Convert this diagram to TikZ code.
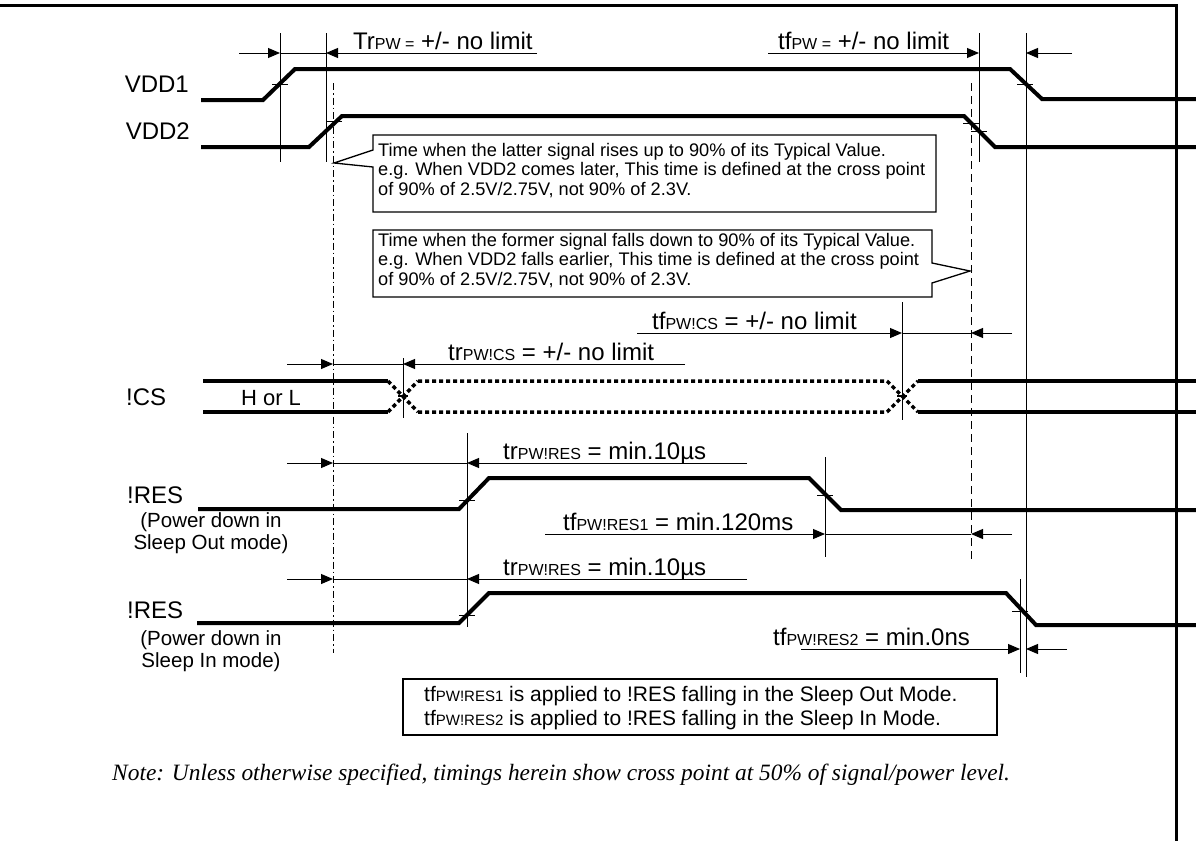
\documentclass[tikz,border=0pt]{standalone}
\usepackage{fontspec}
\setmainfont{Liberation Sans}
\newfontfamily\notefont{Liberation Serif}
\usetikzlibrary{arrows.meta}

\newcommand{\bigtxt}{\fontsize{24}{28}\selectfont}
\newcommand{\subtxt}{\fontsize{16}{19}\selectfont}
\newcommand{\calltxt}{\fontsize{18.2}{19.5}\selectfont}
\newcommand{\modetxt}{\fontsize{20.5}{21.5}\selectfont}

\begin{document}
\begin{tikzpicture}[x=1pt,y=-1pt,
  sig/.style={line width=4pt},
  bus/.style={line width=3.5pt,dash pattern=on 4pt off 3pt},
  guide/.style={line width=1pt},
  dim/.style={line width=1pt,-{Triangle[length=12pt,width=10pt]}},
  lbl/.style={font=\bigtxt,inner sep=0pt},
  callout/.style={line width=1.3pt}]
  \useasboundingbox (0,0) rectangle (1196,841);

  % frame
  \draw[line width=3pt] (0,5) -- (1176,5) -- (1176,841);

  % signal names
  \node[lbl,anchor=east] (vdd1) at (189,84) {VDD1};
  \node[lbl,anchor=east] (vdd2) at (190,131) {VDD2};
  \node[lbl,anchor=west] (cs) at (126,397) {!CS};
  \node[font=\fontsize{22}{24}\selectfont,inner sep=0pt] (hl) at (271,398) {H or L};
  \node[lbl,anchor=west] (res1) at (127,495) {!RES};
  \node[lbl,anchor=west] (res2) at (127,610) {!RES};
  \node[font=\modetxt,align=center,inner sep=0pt] (res1m) at (211,533) {(Power down in\\Sleep Out mode)};
  \node[font=\modetxt,align=center,inner sep=0pt] (res2m) at (211,651) {(Power down in\\Sleep In mode)};

  % waveforms
  \draw[sig] (201,100) -- (263,100) -- (295,69) -- (1010,69) -- (1042,99) -- (1196,99);
  \draw[sig] (201,147) -- (309,147) -- (342,116) -- (964,116) -- (995,147) -- (1196,147);
  \draw[sig] (203,381) -- (388,381) (203,412) -- (388,412);
  \draw[bus] (388,381) -- (418,412) (388,412) -- (418,381)
             (418,381) -- (887,381) (418,412) -- (887,412)
             (887,381) -- (918,412) (887,412) -- (918,381);
  \draw[sig] (918,381) -- (1196,381) (918,412) -- (1196,412);
  \draw[sig] (198,509) -- (459,509) -- (489,478) -- (809,478) -- (841,510) -- (1196,510);
  \draw[sig] (197,623) -- (459,623) -- (489,593) -- (1006,593) -- (1036,625) -- (1196,625);

  % timing markers
  \foreach \x/\ya/\yb in {280/33/162,326/33/162,979/33/162,1026/33/677,
                          403/358/418,902/302/420,467/433/627,825/457/557,1020/579/673}
    \draw[guide] (\x,\ya) -- (\x,\yb);
  \draw[guide,dash pattern=on 7pt off 3pt on 1.5pt off 3pt] (333,83) -- (333,653);
  \draw[guide,dash pattern=on 8pt off 5pt] (971,83) -- (971,562);
  \foreach \x/\y in {280/84,334/121,1025/84,971/123,979/131,467/500,467/615,825/495,1020/611}
    \draw[guide] (\x-8,\y) -- (\x+8,\y);
  \foreach \x in {403,902}
    \draw[line width=2.5pt] (\x-5,396) -- (\x+5,396);

  % dimension arrows
  \draw[dim] (239,53) -- (280,53);
  \draw[guide] (280,53) -- (326,53);
  \draw[dim] (537,53) -- (326,53);
  \draw[dim] (768,53) -- (979,53);
  \draw[dim] (1072,53) -- (1026,53);
  \draw[dim] (637,333) -- (902,333);
  \draw[guide] (902,333) -- (971,333);
  \draw[dim] (1012,333) -- (971,333);
  \draw[dim] (287,364) -- (333,364);
  \draw[guide] (333,364) -- (403,364);
  \draw[dim] (685,364) -- (403,364);
  \foreach \y in {463,579} {
    \draw[dim] (287,\y) -- (333,\y);
    \draw[guide] (333,\y) -- (467,\y);
    \draw[dim] (747,\y) -- (467,\y);
    \node[lbl,anchor=base west] at (503,\y-4) {tr{\subtxt PW!RES} = min.10µs};
  }
  \draw[dim] (545,534) -- (825,534);
  \draw[guide] (825,534) -- (971,534);
  \draw[dim] (1012,534) -- (971,534);
  \draw[dim] (801,649) -- (1020,649);
  \draw[dim] (1067,649) -- (1026,649);

  % timing labels
  \node[lbl,anchor=base west] (trpw) at (353,49) {Tr{\subtxt PW =} +/- no limit};
  \node[lbl,anchor=base west] (tfpw) at (778,49) {tf{\subtxt PW =} +/- no limit};
  \node[lbl,anchor=base west] (tfcs) at (652,329) {tf{\subtxt PW!CS} = +/- no limit};
  \node[lbl,anchor=base west] (trcs) at (448,360) {tr{\subtxt PW!CS} = +/- no limit};
  \node[lbl,anchor=base west] (tfres1) at (563,530) {tf{\subtxt PW!RES1} = min.120ms};
  \node[lbl,anchor=base west] (tfres2) at (773,645) {tf{\subtxt PW!RES2} = min.0ns};

  % callouts
  \draw[callout] (373,150) -- (373,135) -- (936,135) -- (936,212) -- (373,212) -- (373,167) -- (334,163) -- cycle;
  \node[font=\calltxt,align=left,inner sep=0pt,anchor=north west] (rise) at (378,143)
    {Time when the latter signal rises up to 90\% of its Typical Value.\\
     e.g. When VDD2 comes later, This time is defined at the cross point\\
     of 90\% of 2.5V/2.75V, not 90\% of 2.3V.};
  \draw[callout] (373,230) -- (932,230) -- (932,263) -- (970,271) -- (932,283) -- (932,297) -- (373,297) -- cycle;
  \node[font=\calltxt,align=left,inner sep=0pt,anchor=north west] (fall) at (378,233)
    {Time when the former signal falls down to 90\% of its Typical Value.\\
     e.g. When VDD2 falls earlier, This time is defined at the cross point\\
     of 90\% of 2.5V/2.75V, not 90\% of 2.3V.};

  % notes
  \draw[line width=1.3pt] (403,679) rectangle (997,735);
  \node[font=\fontsize{21}{24.5}\selectfont,align=left,inner sep=0pt,anchor=north west] (apply) at (424,686)
    {tf{\fontsize{15}{17}\selectfont PW!RES1} is applied to !RES falling in the Sleep Out Mode.\\
     tf{\fontsize{15}{17}\selectfont PW!RES2} is applied to !RES falling in the Sleep In Mode.};
  \node[font=\notefont\itshape\fontsize{23.4}{26}\selectfont,inner sep=0pt,anchor=base west] (note) at (112,780)
    {Note: Unless otherwise specified, timings herein show cross point at 50\% of signal/power level.};
\end{tikzpicture}
\end{document}
